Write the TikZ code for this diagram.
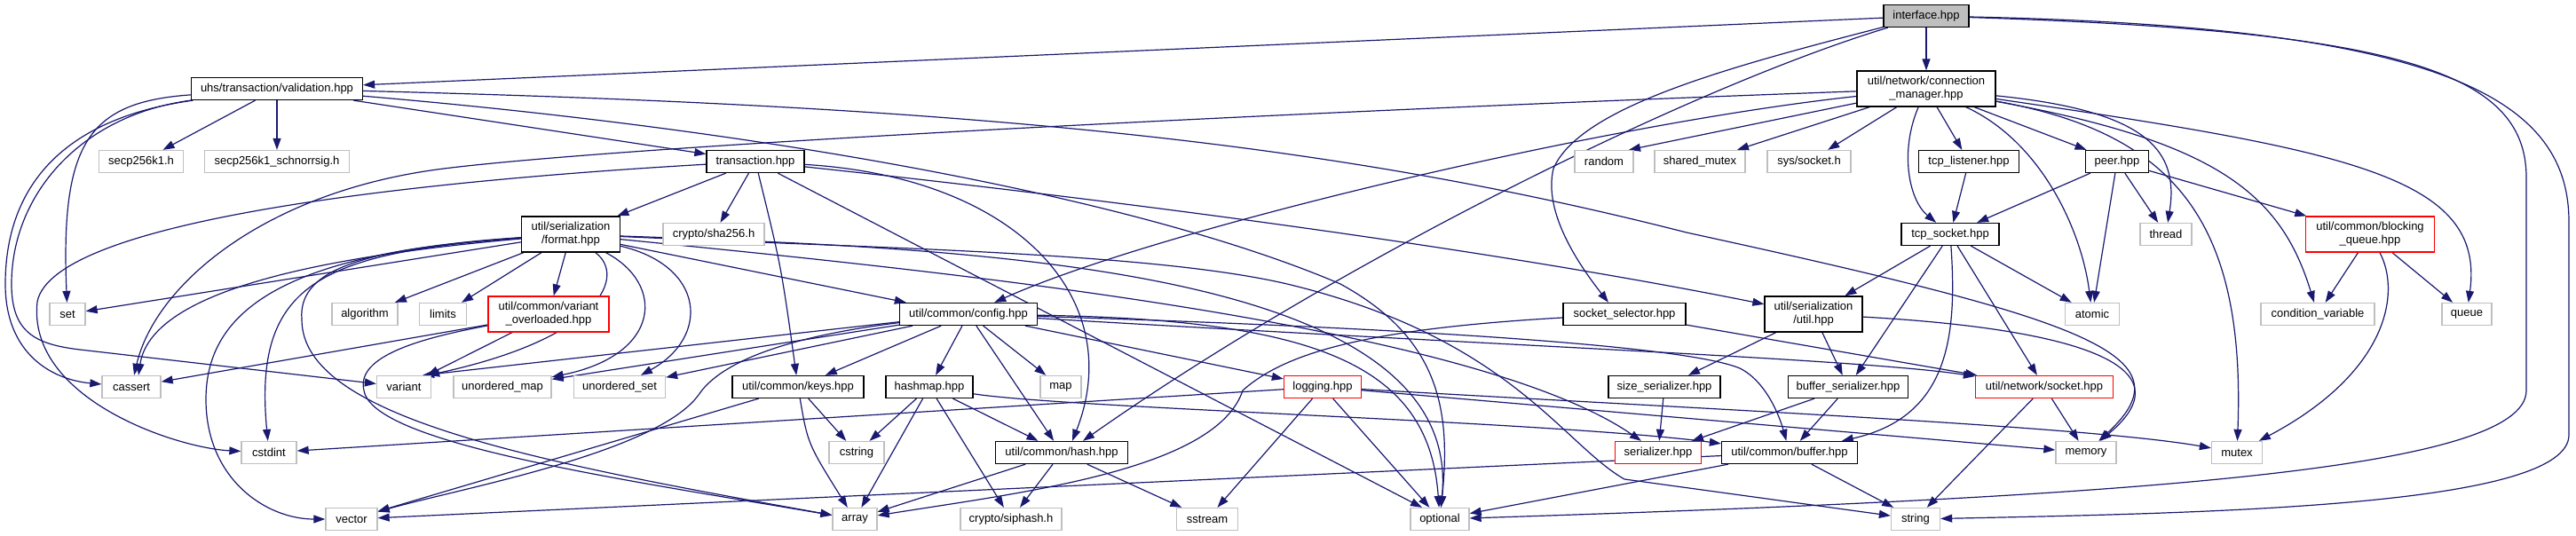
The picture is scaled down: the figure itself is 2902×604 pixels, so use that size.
\documentclass[tikz,border=0pt]{standalone}
\usepackage{fontspec}
\setmainfont{Liberation Sans}
\usetikzlibrary{arrows.meta,backgrounds}
\definecolor{edgeblue}{HTML}{191970}
\definecolor{lgray}{HTML}{BFBFBF}
\tikzset{
  box/.style={draw=black, line width=1.3pt, inner sep=0pt, minimum height=25pt, font=\fontsize{13pt}{15pt}\selectfont, align=center, text=black, fill=white},
  sysbox/.style={box, draw=lgray},
  redbox/.style={box, draw=red},
  tallbox/.style={minimum height=40pt},
  dep/.style={draw=edgeblue, line width=1.2pt, -{Triangle[length=13pt,width=9pt]}},
}
\begin{document}
\begin{tikzpicture}[x=1pt,y=-1pt]
\useasboundingbox (0,0) rectangle (2902,604);
% ---------------- nodes ----------------
\node[box, fill=lgray, minimum width=96pt] (interface) at (2170,18) {interface.hpp};
\node[box, minimum width=193pt] (validation) at (312,100) {uhs/transaction/validation.hpp};
\node[box, tallbox, minimum width=156pt] (connmgr) at (2170,100) {util/network/connection\\\_manager.hpp};
\node[sysbox, minimum width=95pt] (secp) at (159,182) {secp256k1.h};
\node[sysbox, minimum width=163pt] (schnorr) at (312,182) {secp256k1\_schnorrsig.h};
\node[box, minimum width=110pt] (transaction) at (851,182) {transaction.hpp};
\node[sysbox, minimum width=66pt] (random) at (1807,182) {random};
\node[sysbox, minimum width=102pt] (sharedmutex) at (1915,182) {shared\_mutex};
\node[sysbox, minimum width=94pt] (syssocket) at (2038,182) {sys/socket.h};
\node[box, minimum width=113pt] (tcplistener) at (2218,182) {tcp\_listener.hpp};
\node[box, minimum width=71pt] (peer) at (2385,182) {peer.hpp};
\node[box, tallbox, minimum width=111pt] (format) at (643,264) {util/serialization\\/format.hpp};
\node[sysbox, minimum width=114pt] (sha256) at (804,264) {crypto/sha256.h};
\node[box, minimum width=110pt] (tcpsocket) at (2197,264) {tcp\_socket.hpp};
\node[sysbox, minimum width=58pt] (thread) at (2440,264) {thread};
\node[redbox, tallbox, minimum width=145pt] (bqueue) at (2670,264) {util/common/blocking\\\_queue.hpp};
\node[sysbox, minimum width=40pt] (set) at (76,354) {set};
\node[sysbox, minimum width=74pt] (algorithm) at (411,354) {algorithm};
\node[sysbox, minimum width=53pt] (limits) at (499,354) {limits};
\node[redbox, tallbox, minimum width=136pt] (varover) at (618,354) {util/common/variant\\\_overloaded.hpp};
\node[box, minimum width=155pt] (config) at (1091,354) {util/common/config.hpp};
\node[box, minimum width=138pt] (sockselector) at (1830,354) {socket\_selector.hpp};
\node[box, tallbox, minimum width=110pt] (serutil) at (2043,354) {util/serialization\\/util.hpp};
\node[sysbox, minimum width=61pt] (atomic) at (2357,354) {atomic};
\node[sysbox, minimum width=128pt] (condvar) at (2611,354) {condition\_variable};
\node[sysbox, minimum width=56pt] (queue) at (2779,354) {queue};
\node[sysbox, minimum width=66pt] (cassert) at (148,436) {cassert};
\node[sysbox, minimum width=61pt] (variant) at (455,436) {variant};
\node[sysbox, minimum width=110pt] (umap) at (566,436) {unordered\_map};
\node[sysbox, minimum width=103pt] (uset) at (698,436) {unordered\_set};
\node[box, minimum width=148pt] (keys) at (899,436) {util/common/keys.hpp};
\node[box, minimum width=98pt] (hashmap) at (1047,436) {hashmap.hpp};
\node[sysbox, minimum width=46pt] (map) at (1195,436) {map};
\node[redbox, minimum width=87pt] (logging) at (1490,436) {logging.hpp};
\node[box, minimum width=126pt] (sizeser) at (1875,436) {size\_serializer.hpp};
\node[box, minimum width=135pt] (bufser) at (2082,436) {buffer\_serializer.hpp};
\node[redbox, minimum width=155pt] (netsocket) at (2303,436) {util/network/socket.hpp};
\node[sysbox, minimum width=62pt] (cstdint) at (303,510) {cstdint};
\node[sysbox, minimum width=62pt] (cstring) at (965,510) {cstring};
\node[box, minimum width=149pt] (hash) at (1196,510) {util/common/hash.hpp};
\node[redbox, minimum width=97pt] (serializer) at (1868,510) {serializer.hpp};
\node[box, minimum width=153pt] (buffer) at (2016,510) {util/common/buffer.hpp};
\node[sysbox, minimum width=68pt] (memory) at (2350,510) {memory};
\node[sysbox, minimum width=57pt] (mutex) at (2520,510) {mutex};
\node[sysbox, minimum width=58pt] (vector) at (396,585) {vector};
\node[sysbox, minimum width=50pt] (array) at (963,585) {array};
\node[sysbox, minimum width=114pt] (siphash) at (1139,585) {crypto/siphash.h};
\node[sysbox, minimum width=69pt] (sstream) at (1360,585) {sstream};
\node[sysbox, minimum width=66pt] (optional) at (1622,585) {optional};
\node[sysbox, minimum width=55pt] (string) at (2158,585) {string};
% ---------------- edges ----------------
\begin{pgfonlayer}{background}
\fill[white] (0,0) rectangle (2902,604);
% interface
\draw[dep] (interface) -- (validation);
\draw[dep] (interface) -- (connmgr);
\draw[dep] (interface) .. controls (1900,100) and (1500,300) .. ([xshift=24pt]hash.north);
\draw[dep] (interface) .. controls (1950,75) and (1780,120) .. (1750,190) .. controls (1738,240) and (1780,300) .. ([xshift=-18pt]sockselector.north);
\draw[dep] (interface) .. controls (2700,35) and (2846,80) .. (2846,200) -- (2846,440) .. controls (2846,530) and (2400,560) .. (optional);
\draw[dep] (interface) .. controls (2750,30) and (2894,110) .. (2894,250) -- (2894,490) .. controls (2894,570) and (2500,578) .. (string);
% validation
\draw[dep] (validation) -- (secp);
\draw[dep] (validation) -- (schnorr);
\draw[dep] (validation) -- (transaction);
\draw[dep] (validation) .. controls (60,135) and (6,220) .. (6,320) .. controls (6,400) and (60,428) .. (cassert);
\draw[dep] (validation) .. controls (90,130) and (13,220) .. (13,320) .. controls (13,375) and (40,388) .. (90,394) -- (variant);
\draw[dep] (validation) .. controls (100,115) and (68,160) .. (set);
\draw[dep] (validation) .. controls (900,150) and (1300,230) .. (1510,320) .. controls (1620,380) and (1635,460) .. (optional);
\draw[dep] (validation) .. controls (1100,120) and (1500,160) .. (1900,262) .. controls (2350,360) and (2470,400) .. (memory);
% transaction
\draw[dep] (transaction) -- (format);
\draw[dep] (transaction) -- (sha256);
\draw[dep] (transaction) .. controls (880,300) .. (keys);
\draw[dep] (transaction) .. controls (450,205) and (60,250) .. (42,340) .. controls (30,450) and (200,505) .. (cstdint);
\draw[dep] (transaction) .. controls (1150,200) and (1270,340) .. ([xshift=12pt]hash.north);
\draw[dep] (transaction) -- ([xshift=-20pt]optional.north);
\draw[dep] (transaction) .. controls (1300,230) and (1700,285) .. (serutil);
% format
\draw[dep] (format) -- (set);
\draw[dep] (format) .. controls (350,290) and (170,330) .. ([xshift=8pt]cassert.north);
\draw[dep] (format) .. controls (360,285) and (285,320) .. (cstdint);
\draw[dep] (format) .. controls (320,285) and (232,350) .. (232,450) .. controls (232,540) and (300,585) .. (vector);
\draw[dep] (format) .. controls (420,280) and (335,300) .. (340,360) .. controls (340,470) and (600,520) .. (array);
\draw[dep] (format) -- (algorithm);
\draw[dep] (format) -- (limits);
\draw[dep] (format) -- (varover);
\draw[dep] (format) .. controls (705,310) and (680,380) .. ([xshift=-4pt]variant.north east);
\draw[dep] (format) .. controls (750,320) and (745,400) .. (umap);
\draw[dep] (format) .. controls (795,300) and (800,380) .. (uset);
\draw[dep] (format) -- ([xshift=8pt]config.north west);
\draw[dep] (format) .. controls (1000,300) and (1650,360) .. (serializer);
\draw[dep] (format) .. controls (1100,280) and (1650,300) .. (optional);
\draw[dep] (format) .. controls (1000,280) and (1300,285) .. (1450,320) .. controls (1700,380) and (1760,500) .. (1830,540) -- (string);
% config
\draw[dep] (config) -- ([xshift=-10pt]variant.north east);
\draw[dep] (config) -- (umap);
\draw[dep] (config) -- (uset);
\draw[dep] (config) -- (keys);
\draw[dep] (config) .. controls (880,380) and (810,410) .. (787,445) .. controls (740,510) and (520,550) .. (vector);
\draw[dep] (config) -- (hashmap);
\draw[dep] (config) -- (map);
\draw[dep] (config) -- (hash);
\draw[dep] (config) -- (logging);
\draw[dep] (config) .. controls (1480,360) and (1610,410) .. (optional);
\draw[dep] (config) .. controls (1700,390) and (2100,405) .. (netsocket);
\draw[dep] (config) .. controls (1600,370) and (1900,390) .. (1960,415) .. controls (1990,430) and (2005,470) .. (buffer);
% keys, hashmap, hash
\draw[dep] (keys) -- (vector);
\draw[dep] (keys) .. controls (910,500) .. (array);
\draw[dep] (keys) -- (cstring);
\draw[dep] (hashmap) -- (cstring);
\draw[dep] (hashmap) -- (array);
\draw[dep] (hashmap) -- (siphash);
\draw[dep] (hashmap) -- (hash);
\draw[dep] (hashmap) .. controls (1200,460) and (1750,475) .. (buffer);
\draw[dep] (hash) -- (array);
\draw[dep] (hash) -- (siphash);
\draw[dep] (hash) -- (sstream);
% logging
\draw[dep] (logging) -- (cstdint);
\draw[dep] (logging) -- (sstream);
\draw[dep] (logging) -- (optional);
\draw[dep] (logging) .. controls (1900,460) and (2350,480) .. (mutex);
\draw[dep] (logging) -- (memory);
% serialization util and friends
\draw[dep] (serutil) -- (sizeser);
\draw[dep] (serutil) -- (bufser);
\draw[dep] (serutil) .. controls (2330,370) and (2470,410) .. (memory);
\draw[dep] (sizeser) -- (serializer);
\draw[dep] (bufser) -- (serializer);
\draw[dep] (bufser) -- (buffer);
\draw[dep] (netsocket) -- (memory);
\draw[dep] (netsocket) -- (string);
\draw[dep] (buffer) -- (vector);
\draw[dep] (buffer) -- (optional);
\draw[dep] (buffer) -- (string);
% tcp socket
\draw[dep] (tcpsocket) -- (serutil);
\draw[dep] (tcpsocket) -- (bufser);
\draw[dep] (tcpsocket) .. controls (2205,380) and (2195,470) .. (buffer);
\draw[dep] (tcpsocket) -- (netsocket);
\draw[dep] (tcpsocket) -- (atomic);
% socket selector
\draw[dep] (sockselector) -- (netsocket);
\draw[dep] (sockselector) .. controls (1550,370) and (1450,395) .. (1400,440) .. controls (1370,530) and (1150,555) .. (array);
% variant overloaded
\draw[dep] (varover) -- (cassert);
\draw[dep] (varover) -- (variant);
\draw[dep] (varover) .. controls (480,380) and (400,400) .. (410,440) .. controls (420,500) and (700,540) .. (array);
% blocking queue
\draw[dep] (bqueue) -- (condvar);
\draw[dep] (bqueue) -- (queue);
\draw[dep] (bqueue) .. controls (2705,330) and (2690,420) .. (mutex);
% peer, listener
\draw[dep] (peer) -- (tcpsocket);
\draw[dep] (peer) -- (thread);
\draw[dep] (peer) -- (bqueue);
\draw[dep] (peer) -- (atomic);
\draw[dep] (tcplistener) -- (tcpsocket);
% connection manager
\draw[dep] (connmgr) -- ([xshift=28pt]random.north);
\draw[dep] (connmgr) -- ([xshift=42pt]sharedmutex.north);
\draw[dep] (connmgr) -- (syssocket);
\draw[dep] (connmgr) -- (tcplistener);
\draw[dep] (connmgr) -- (peer);
\draw[dep] (connmgr) .. controls (2140,170) and (2150,225) .. (tcpsocket);
\draw[dep] (connmgr) .. controls (2420,125) and (2455,170) .. (thread);
\draw[dep] (connmgr) .. controls (2300,160) and (2345,260) .. (atomic);
\draw[dep] (connmgr) .. controls (2500,160) and (2570,220) .. (condvar);
\draw[dep] (connmgr) .. controls (2450,150) and (2530,250) .. (mutex);
\draw[dep] (connmgr) .. controls (2650,170) and (2800,200) .. (queue);
\draw[dep] (connmgr) .. controls (1800,140) and (1300,260) .. (config);
\draw[dep] (connmgr) .. controls (1400,128) and (700,165) .. (500,190) .. controls (300,215) and (175,320) .. (cassert);
\end{pgfonlayer}
\end{tikzpicture}
\end{document}
